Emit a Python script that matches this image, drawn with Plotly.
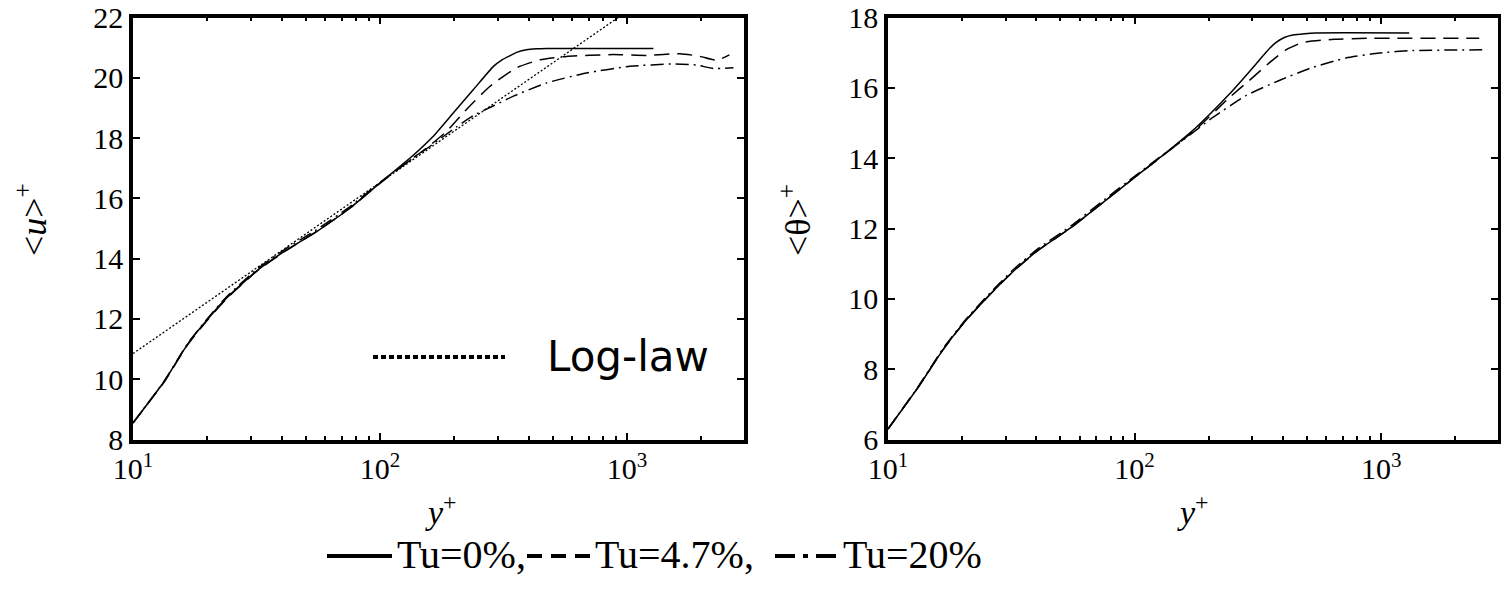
import plotly.graph_objects as go

W, H = 1501, 589

# ---------------- Left panel: <u>+ -----------------
yp_u_tu0 = [10, 13.3, 16.7, 20.2, 23.9, 32.1, 41.9, 55.4, 75.7, 100, 136, 164, 198, 239, 288, 310, 336, 360, 392, 430, 473, 1280]
u_tu0 = [8.55, 9.9, 11.18, 12.02, 12.69, 13.63, 14.29, 14.90, 15.68, 16.51, 17.42, 18.05, 18.83, 19.61, 20.38, 20.58, 20.73, 20.85, 20.93, 20.96, 20.97, 20.97]

yp_u_tu47 = [10, 13.3, 16.7, 20.2, 23.9, 32.1, 41.9, 55.4, 75.7, 100, 130, 155, 186, 224, 279, 357, 445, 570, 881, 1203, 1642, 1977, 2309, 2600]
u_tu47 = [8.55, 9.88, 11.16, 12.0, 12.67, 13.62, 14.28, 14.9, 15.68, 16.5, 17.22, 17.68, 18.22, 18.95, 19.72, 20.33, 20.60, 20.71, 20.77, 20.74, 20.80, 20.71, 20.58, 20.76]

yp_u_tu20 = [10, 13.3, 16.7, 20.2, 23.9, 32.1, 41.9, 55.4, 75.7, 100, 130, 159, 204, 239, 290, 347, 473, 687, 1028, 1541, 1915, 2238, 2700]
u_tu20 = [8.55, 9.91, 11.2, 12.05, 12.73, 13.68, 14.35, 14.96, 15.73, 16.53, 17.22, 17.72, 18.37, 18.75, 19.08, 19.39, 19.83, 20.16, 20.38, 20.46, 20.42, 20.31, 20.33]

yp_loglaw = [10, 1000]
u_loglaw = [10.85, 22.2]

# ---------------- Right panel: <theta>+ -----------------
yp_t_tu0 = [10, 13.3, 16.7, 20.2, 24.7, 32.1, 40.6, 55.4, 75.7, 100, 130, 178, 243, 311, 345, 375, 405, 438, 490, 545, 1300]
t_tu0 = [6.3, 7.5, 8.55, 9.3, 9.97, 10.77, 11.38, 12.03, 12.78, 13.45, 14.08, 14.88, 15.83, 16.68, 17.05, 17.29, 17.43, 17.50, 17.54, 17.56, 17.56]

yp_t_tu47 = [10, 13.3, 16.7, 20.2, 24.7, 32.1, 40.6, 55.4, 75.7, 100, 130, 178, 243, 292, 363, 411, 480, 646, 881, 2500]
t_tu47 = [6.3, 7.5, 8.55, 9.3, 9.97, 10.77, 11.38, 12.03, 12.78, 13.45, 14.07, 14.83, 15.73, 16.21, 16.79, 17.08, 17.29, 17.38, 17.41, 17.41]

yp_t_tu20 = [10, 13.3, 16.7, 20.2, 24.7, 32.1, 40.6, 55.4, 75.7, 100, 125, 153, 207, 283, 386, 527, 720, 982, 1340, 2700]
t_tu20 = [6.3, 7.52, 8.58, 9.33, 10.01, 10.82, 11.43, 12.08, 12.83, 13.48, 14.0, 14.45, 15.15, 15.78, 16.21, 16.58, 16.85, 16.99, 17.06, 17.08]

x_tickvals = [10, 100, 1000]
x_ticktext = ["10<sup>1</sup>", "10<sup>2</sup>", "10<sup>3</sup>"]
x_minor = [20, 30, 40, 50, 60, 70, 80, 90, 200, 300, 400, 500, 600, 700, 800, 900, 2000, 3000]
legend_labels = ["Tu=0%,", "Tu=4.7%,", "Tu=20%"]

SERIF = "Liberation Serif"
DASH = "15px,8px"
DASHDOT = "13px,5px,2px,5px"

fig = go.Figure()

def add_curve(x, y, dash, xa, ya, width=1.5, shape="spline"):
    fig.add_trace(go.Scatter(x=x, y=y, mode="lines", xaxis=xa, yaxis=ya,
                             line=dict(color="black", width=width, dash=dash,
                                       shape=shape, smoothing=0.5),
                             showlegend=False, hoverinfo="skip"))

add_curve(yp_loglaw, u_loglaw, "2px,2px", "x", "y", 1.3, "linear")
add_curve(yp_u_tu0, u_tu0, "solid", "x", "y")
add_curve(yp_u_tu47, u_tu47, DASH, "x", "y")
add_curve(yp_u_tu20, u_tu20, DASHDOT, "x", "y")

add_curve(yp_t_tu0, t_tu0, "solid", "x2", "y2")
add_curve(yp_t_tu47, t_tu47, DASH, "x2", "y2")
add_curve(yp_t_tu20, t_tu20, DASHDOT, "x2", "y2")

def xaxis_cfg(domain):
    return dict(type="log", range=[1, 3.474], domain=domain, automargin=False,
                showline=True, linewidth=3.5, linecolor="black", mirror="allticks",
                ticks="inside", ticklen=7, tickwidth=2, tickcolor="black",
                tickvals=x_tickvals, ticktext=x_ticktext,
                minor=dict(ticks="inside", ticklen=4, tickwidth=2, tickcolor="black",
                           tickvals=x_minor, showgrid=False),
                showgrid=False, zeroline=False,
                tickfont=dict(family=SERIF, size=30, color="black"))

def yaxis_cfg(domain, rng, anchor):
    return dict(range=rng, domain=domain, anchor=anchor, dtick=2, tick0=0, automargin=False,
                showline=True, linewidth=3.5, linecolor="black", mirror="allticks",
                ticks="inside", ticklen=7, tickwidth=2, tickcolor="black",
                showgrid=False, zeroline=False,
                tickfont=dict(family=SERIF, size=30, color="black"))

ydom = [1 - 439.5 / H, 1 - 17.5 / H]

fig.update_layout(
    width=W, height=H,
    margin=dict(l=0, r=0, t=0, b=0, autoexpand=False),
    paper_bgcolor="white", plot_bgcolor="white",
    xaxis=dict(xaxis_cfg([133 / W, 744 / W]), anchor="y"),
    yaxis=yaxis_cfg(ydom, [8, 22], "x"),
    xaxis2=dict(xaxis_cfg([888 / W, 1498 / W]), anchor="y2"),
    yaxis2=yaxis_cfg(ydom, [6, 18], "x2"),
    showlegend=False,
)

def px(x):
    return x / W

def py(y):
    return 1 - y / H

annotations = [
    dict(x=px(32), y=py(220), text="&lt;<i>u</i>&gt;<sup>+</sup>", textangle=-90,
         font=dict(family=SERIF, size=36, color="black")),
    dict(x=px(796), y=py(220), text="&lt;θ&gt;<sup>+</sup>", textangle=-90,
         font=dict(family=SERIF, size=36, color="black")),
    dict(x=px(441), y=py(510), text="<i>y</i><sup>+</sup>",
         font=dict(family=SERIF, size=34, color="black")),
    dict(x=px(1193), y=py(510), text="<i>y</i><sup>+</sup>",
         font=dict(family=SERIF, size=34, color="black")),
    dict(x=px(545), y=py(357), text="Log-law", xanchor="left",
         font=dict(family="DejaVu Sans", size=42, color="black")),
    dict(x=px(395), y=py(554), text=legend_labels[0], xanchor="left",
         font=dict(family=SERIF, size=40, color="black")),
    dict(x=px(593), y=py(554), text=legend_labels[1], xanchor="left",
         font=dict(family=SERIF, size=40, color="black")),
    dict(x=px(841), y=py(554), text=legend_labels[2], xanchor="left",
         font=dict(family=SERIF, size=40, color="black")),
]
for a in annotations:
    a.update(xref="paper", yref="paper", showarrow=False, yanchor=a.get("yanchor", "middle"),
             xanchor=a.get("xanchor", "center"))
fig.update_layout(annotations=annotations)

shapes = [
    dict(x0=px(373), x1=px(505), y0=py(357), y1=py(357), line=dict(color="black", width=4, dash="5px,3px")),
    dict(x0=px(327), x1=px(392), y0=py(556), y1=py(556), line=dict(color="black", width=4)),
    dict(x0=px(527), x1=px(590), y0=py(556), y1=py(556), line=dict(color="black", width=4, dash="15px,9px")),
    dict(x0=px(775), x1=px(838), y0=py(556), y1=py(556), line=dict(color="black", width=4, dash="20px,8px,5px,8px")),
]
for s in shapes:
    s.update(type="line", xref="paper", yref="paper")
fig.update_layout(shapes=shapes)

fig.write_html("out.html")
